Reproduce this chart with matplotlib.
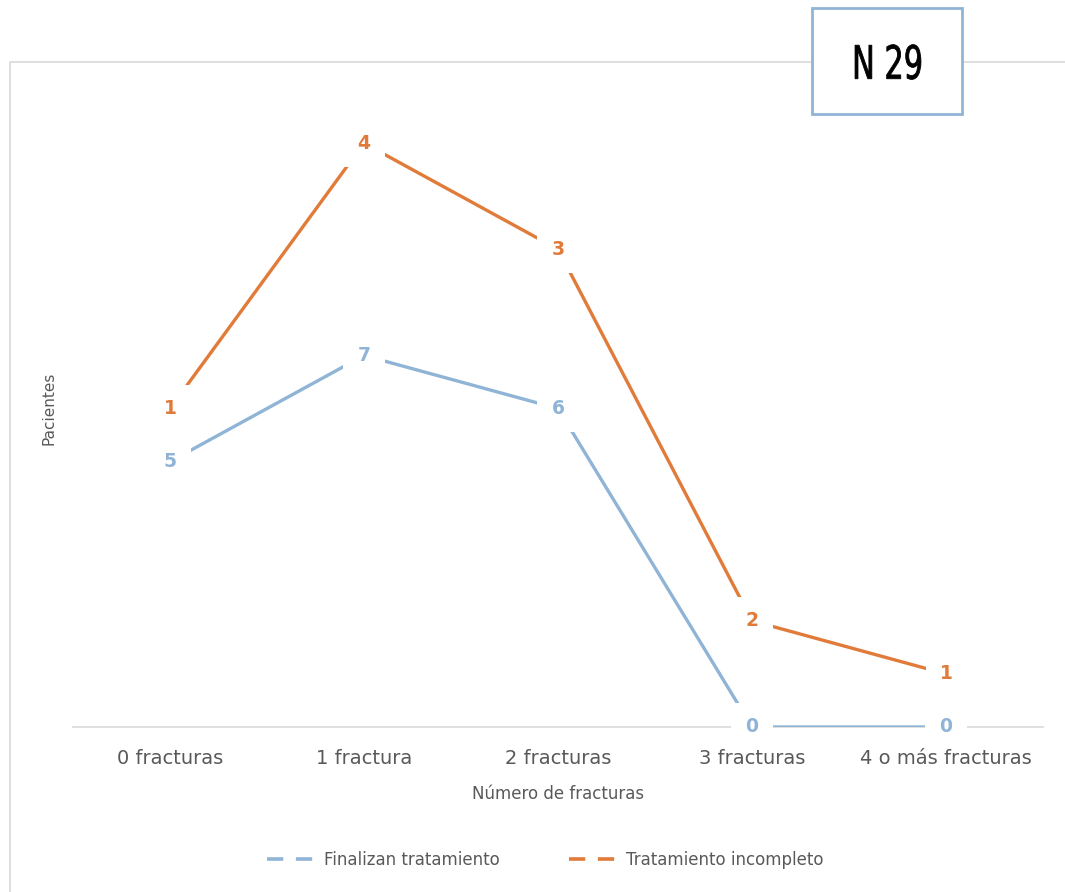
import matplotlib
matplotlib.use("Agg")
import matplotlib.pyplot as plt
import numpy as np
from matplotlib.lines import Line2D
from matplotlib.patches import Rectangle, PathPatch
from matplotlib.textpath import TextPath
from matplotlib.font_manager import FontProperties
from matplotlib.transforms import Affine2D

categories = ['0 fracturas', '1 fractura', '2 fracturas', '3 fracturas', '4 o más fracturas']
finalizan = [5, 7, 6, 0, 0]
incompleto = [1, 4, 3, 2, 1]

blue = '#8FB4D6'
orange = '#E07B39'
gray = '#595959'

plt.rcParams['font.family'] = ['DejaVu Sans']

W, H = 1065, 892
fig = plt.figure(figsize=(W / 100, H / 100), dpi=100)
# chart border
fig.patches.append(Rectangle((10 / W, -0.05), 1.1, (H - 62) / H + 0.05,
                             transform=fig.transFigure, fill=False,
                             edgecolor='#D9D9D9', linewidth=1.2))

ax = fig.add_axes([73 / W, 0.185, (1043 - 73) / W, 0.899 - 0.185])
x = np.arange(len(categories))
stacked = np.array(finalizan) + np.array(incompleto)

ax.plot(x, finalizan, color=blue, linewidth=2.4, zorder=2)
ax.plot(x, stacked, color=orange, linewidth=2.4, zorder=2)

for xi, v in zip(x, finalizan):
    ax.text(xi, v, str(v), color=blue, fontsize=13.5, fontweight='bold',
            ha='center', va='center', zorder=4,
            bbox=dict(boxstyle='square,pad=0.75', fc='white', ec='none'))
for xi, s, v in zip(x, stacked, incompleto):
    ax.text(xi, s, str(v), color=orange, fontsize=13.5, fontweight='bold',
            ha='center', va='center', zorder=4,
            bbox=dict(boxstyle='square,pad=0.75', fc='white', ec='none'))

ax.set_xlim(-0.5, 4.5)
ax.set_ylim(0, 12)
ax.set_xticks(x)
ax.set_xticklabels(categories, fontsize=14, color=gray)
ax.set_yticks([])
ax.tick_params(axis='x', length=0, pad=16)
ax.xaxis.set_zorder(5)  # keep tick labels above the label boxes
for s in ['top', 'right', 'left']:
    ax.spines[s].set_visible(False)
ax.spines['bottom'].set_color('#D9D9D9')
ax.spines['bottom'].set_linewidth(1.2)
ax.spines['bottom'].set_zorder(1)
ax.set_xlabel('Número de fracturas', fontsize=12, color=gray, labelpad=12)
ax.set_ylabel('Pacientes', fontsize=11, color=gray)
ax.yaxis.set_label_coords(-0.0165, 0.5)

handles = [Line2D([0], [0], color=blue, linewidth=2.6, dashes=[4.5, 3.5]),
           Line2D([0], [0], color=orange, linewidth=2.6, dashes=[4.5, 3.5])]
fig.legend(handles, ['Finalizan tratamiento', 'Tratamiento incompleto'],
           loc='center', bbox_to_anchor=(0.512, (H - 860) / H), ncol=2,
           frameon=False, fontsize=12, labelcolor=gray, handlelength=3.4,
           handletextpad=0.0, columnspacing=4.2)

# N 29 box
fig.patches.append(Rectangle((812 / W, (H - 114) / H), 150 / W, 106 / H,
                             transform=fig.transFigure, facecolor='white',
                             edgecolor=blue, linewidth=2, zorder=5))
# condensed "N 29" text
tp = TextPath((0, 0), 'N 29', size=46, prop=FontProperties(family='DejaVu Sans'))
ext = tp.get_extents()
sx = 0.66
tw = ext.width * sx
th = ext.height
cx, cy = 888, H - 62
tr = (Affine2D().translate(-ext.x0, -ext.y0).scale(sx, 1.0)
      .translate(cx - tw / 2, cy - th / 2).scale(1 / W, 1 / H) + fig.transFigure)
fig.patches.append(PathPatch(tp, transform=tr, facecolor='black', edgecolor='black',
                             linewidth=0.6, zorder=6))

fig.savefig('out.png', dpi=100)
